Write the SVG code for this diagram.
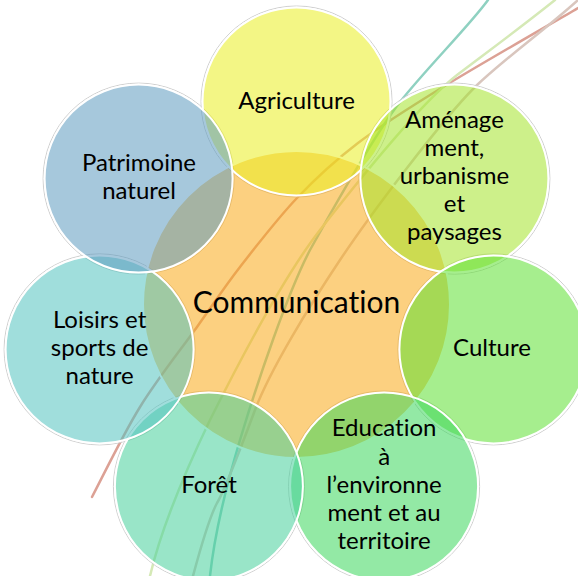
<svg xmlns="http://www.w3.org/2000/svg" width="578" height="576" viewBox="0 0 578 576">
<style>
.t{font-family:Lato,"Open Sans","Liberation Sans",sans-serif;font-size:24px;fill:#000;text-anchor:middle;font-variant-ligatures:none;font-feature-settings:"liga" 0}
.big{font-size:30px}
.c{stroke:#fff;stroke-width:2;fill-opacity:.55}
.deco{fill:none;stroke-width:2.5;stroke-linecap:round}
.halo{fill:none;stroke:#cfcfcf;stroke-width:1}
</style>
<rect width="578" height="576" fill="#fff"/>
<g id="background-lines">
<path class="deco" stroke="#dca195" d="M578,8 C555.5,21.2 479.7,64.5 443,87 C406.3,109.5 382.3,124.5 358,143 C333.7,161.5 316.7,177.3 297,198 C277.3,218.7 256.7,245.5 240,267 C223.3,288.5 213.7,303.7 197,327 C180.3,350.3 157.5,378.7 140,407 C122.5,435.3 100,482 92,497"/>
<path class="deco" stroke="#8fd1c1" d="M488,0 C470,25 425,70 400,102 C375,134 335,205 310,250 C288,292 258,380 240,440 C228,480 215,530 210,576"/>
<path class="deco" stroke="#d5e9b6" d="M555,0 C520,28 490,50 457,75 C420,104 355,185 320,230 C285,275 240,360 210,420 C185,472 162,525 150,576"/>
<path class="deco" stroke="#d9c6be" d="M578,0 C545,30 505,58 475,87 C440,122 370,215 340,260 C310,305 270,370 255,410 C240,450 225,490 217,503 C208,520 200,550 193,576"/>
</g>
<g id="halos">
<circle class="halo" cx="296.5" cy="101.5" r="95.5"/>
<circle class="halo" cx="454.4" cy="178.6" r="95.5"/>
<circle class="halo" cx="493.4" cy="349.4" r="95.5"/>
<circle class="halo" cx="384.1" cy="486.5" r="95.5"/>
<circle class="halo" cx="208.9" cy="486.5" r="95.5"/>
<circle class="halo" cx="99.6" cy="349.4" r="95.5"/>
<circle class="halo" cx="138.6" cy="178.6" r="95.5"/>
</g>
<g id="communication">
<circle class="c" cx="296.5" cy="304.5" r="153.5" fill="#faaa18"/>
<text class="t big" x="296.5" y="313">Communication</text>
</g>
<g id="agriculture">
<circle class="c" cx="296.5" cy="101.5" r="94" fill="#e9ef21"/>
<text class="t" x="296.5" y="109">Agriculture</text>
</g>
<g id="amenagement">
<circle class="c" cx="454.4" cy="178.6" r="94" fill="#a4e42a"/>
<text class="t" x="454.4" y="128">Aménage</text>
<text class="t" x="454.4" y="156">ment,</text>
<text class="t" x="454.4" y="184">urbanisme</text>
<text class="t" x="454.4" y="212">et</text>
<text class="t" x="454.4" y="240">paysages</text>
</g>
<g id="culture">
<circle class="c" cx="493.4" cy="349.4" r="94" fill="#5de032"/>
<text class="t" x="492" y="356">Culture</text>
</g>
<g id="education">
<circle class="c" cx="384.1" cy="486.5" r="94" fill="#3bd75b"/>
<text class="t" x="384.1" y="436">Education</text>
<text class="t" x="384.1" y="464.5">à</text>
<text class="t" x="384.1" y="493">l’environne</text>
<text class="t" x="384.1" y="521">ment et au</text>
<text class="t" x="384.1" y="549">territoire</text>
</g>
<g id="foret">
<circle class="c" cx="208.9" cy="486.5" r="94" fill="#46d09b"/>
<text class="t" x="209" y="493">Forêt</text>
</g>
<g id="loisirs">
<circle class="c" cx="99.6" cy="349.4" r="94" fill="#52c3bf"/>
<text class="t" x="99.6" y="328">Loisirs et</text>
<text class="t" x="99.6" y="356">sports de</text>
<text class="t" x="99.6" y="384">nature</text>
</g>
<g id="patrimoine">
<circle class="c" cx="138.6" cy="178.6" r="94" fill="#5d9bbf"/>
<text class="t" x="139" y="171">Patrimoine</text>
<text class="t" x="139" y="199">naturel</text>
</g>
</svg>
